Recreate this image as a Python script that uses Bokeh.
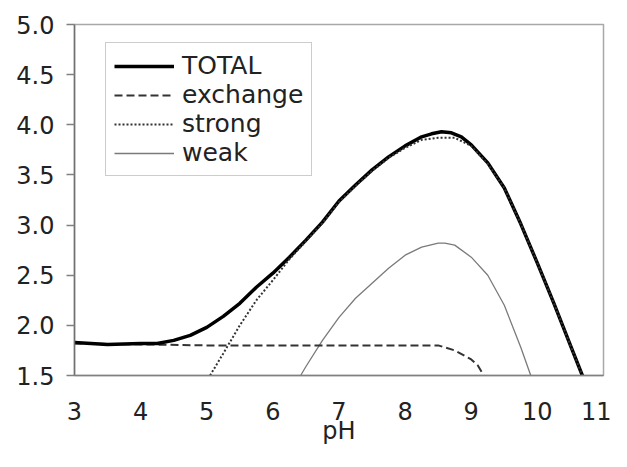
from bokeh.plotting import figure
from bokeh.models import Range1d, FixedTicker, PrintfTickFormatter, Legend, LegendItem
from bokeh.embed import file_html
from bokeh.resources import INLINE

# ---- data ----
total_ph = [3.0, 3.5, 4.0, 4.25, 4.5, 4.75, 5.0, 5.25, 5.5, 5.75, 6.0, 6.25, 6.5, 6.75, 7.0,
            7.25, 7.5, 7.75, 8.0, 8.25, 8.4, 8.55, 8.7, 8.85, 9.0, 9.25, 9.5, 9.75, 10.0, 10.25,
            10.5, 10.68]
total_v = [1.83, 1.81, 1.82, 1.82, 1.85, 1.90, 1.98, 2.09, 2.22, 2.38, 2.52, 2.68, 2.85, 3.03, 3.24,
           3.40, 3.55, 3.68, 3.79, 3.88, 3.91, 3.93, 3.92, 3.88, 3.80, 3.62, 3.37, 3.01, 2.62, 2.22,
           1.80, 1.50]

exch_ph = [3.0, 4.0, 5.0, 6.0, 7.0, 8.0, 8.5, 8.75, 9.0, 9.1, 9.19]
exch_v = [1.82, 1.81, 1.80, 1.80, 1.80, 1.80, 1.80, 1.75, 1.66, 1.60, 1.50]

strong_ph = [5.05, 5.25, 5.5, 5.75, 6.0, 6.25, 6.5, 6.75, 7.0, 7.25, 7.5, 7.75, 8.0, 8.25, 8.5,
             8.75, 9.0, 9.25, 9.5, 9.75, 10.0, 10.25, 10.5, 10.68]
strong_v = [1.50, 1.72, 2.00, 2.25, 2.45, 2.66, 2.84, 3.02, 3.23, 3.39, 3.54, 3.67, 3.77, 3.85, 3.87,
            3.87, 3.79, 3.61, 3.37, 3.01, 2.62, 2.22, 1.80, 1.50]

weak_ph = [6.42, 6.5, 6.75, 7.0, 7.25, 7.5, 7.75, 8.0, 8.25, 8.5, 8.6, 8.75, 9.0, 9.25, 9.5, 9.75, 9.9]
weak_v = [1.50, 1.59, 1.85, 2.08, 2.27, 2.42, 2.57, 2.70, 2.78, 2.82, 2.82, 2.80, 2.68, 2.50, 2.20, 1.78, 1.50]

x_ticks = [3, 4, 5, 6, 7, 8, 9, 10, 11]
y_ticks = [1.5, 2.0, 2.5, 3.0, 3.5, 4.0, 4.5, 5.0]
series_names = ["TOTAL", "exchange", "strong", "weak"]
x_title = "pH"

FONT = "DejaVu Sans"
FS = "24px"
TXT = "#222222"

p = figure(width=611, height=451, output_backend="svg", toolbar_location=None,
           x_range=Range1d(3, 11), y_range=Range1d(1.5, 5.0),
           min_border_left=74, min_border_right=8, min_border_top=24, min_border_bottom=76)
p.background_fill_color = "white"
p.border_fill_color = "white"
p.outline_line_color = "#a8a8a8"
p.outline_line_width = 1.5
p.xgrid.visible = False
p.ygrid.visible = False

r_weak = p.line(weak_ph, weak_v, line_color="#7a7a7a", line_width=1.3, line_join="round")
r_exch = p.line(exch_ph, exch_v, line_color="#333333", line_width=2, line_dash="8 4")
r_total = p.line(total_ph, total_v, line_color="black", line_width=3.5, line_join="round")
r_strong = p.line(strong_ph, strong_v, line_color="#333333", line_width=2, line_dash="2 2")

# axes
xa = p.xaxis[0]
xa.ticker = FixedTicker(ticks=x_ticks)
xa.major_tick_out = 0
xa.major_tick_in = 0
xa.minor_tick_out = 0
xa.minor_tick_in = 0
xa.axis_line_color = "#808080"
xa.axis_line_width = 1.5
xa.major_label_text_font = FONT
xa.major_label_text_font_size = FS
xa.major_label_text_color = TXT
xa.major_label_standoff = 26
xa.axis_label = x_title
xa.axis_label_text_font = FONT
xa.axis_label_text_font_size = FS
xa.axis_label_text_font_style = "normal"
xa.axis_label_text_color = TXT
xa.axis_label_standoff = -6

ya = p.yaxis[0]
ya.ticker = FixedTicker(ticks=y_ticks)
ya.formatter = PrintfTickFormatter(format="%.1f")
ya.major_tick_out = 8
ya.major_tick_in = 0
ya.minor_tick_out = 0
ya.minor_tick_in = 0
ya.major_tick_line_color = "#808080"
ya.major_tick_line_width = 1.5
ya.axis_line_color = "#707070"
ya.axis_line_width = 1.5
ya.major_label_text_font = FONT
ya.major_label_text_font_size = FS
ya.major_label_text_color = TXT
ya.major_label_standoff = 12

legend = Legend(items=[
    LegendItem(label=series_names[0], renderers=[r_total]),
    LegendItem(label=series_names[1], renderers=[r_exch]),
    LegendItem(label=series_names[2], renderers=[r_strong]),
    LegendItem(label=series_names[3], renderers=[r_weak]),
], location=(31, 199))
legend.label_text_font = FONT
legend.label_text_font_size = "25px"
legend.label_text_color = TXT
legend.label_height = 28
legend.glyph_height = 28
legend.glyph_width = 60
legend.label_standoff = 8
legend.spacing = -1
legend.padding = 8
legend.margin = 0
legend.border_line_color = "#9a9a9a"
legend.border_line_width = 1.5
legend.background_fill_color = "white"
legend.background_fill_alpha = 1.0
p.add_layout(legend, "center")

open("out.html", "w").write(file_html(p, INLINE))
